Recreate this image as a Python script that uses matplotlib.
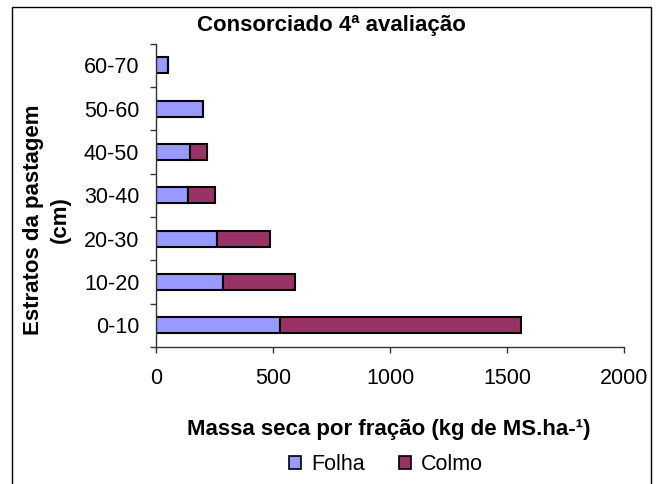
import matplotlib
matplotlib.use("Agg")
import matplotlib.pyplot as plt
from matplotlib.patches import Rectangle, Patch

plt.rcParams['font.family'] = ['Liberation Sans', 'DejaVu Sans']

# dados do gráfico
estratos = ["0-10", "10-20", "20-30", "30-40", "40-50", "50-60", "60-70"]
folha = [529, 286, 261, 137, 146, 200, 53]
colmo = [1030, 307, 228, 117, 74, 0, 0]

cor_folha = "#9999FF"
cor_colmo = "#993366"

fig = plt.figure(figsize=(6.62, 4.84), dpi=100)
W, H = 662, 484
ax = fig.add_axes([156 / W, 1 - 347 / H, (624 - 156) / W, (347 - 43.5) / H])

pos = list(range(len(estratos)))
ax.barh(pos, folha, height=0.37, color=cor_folha, edgecolor="black", linewidth=1.5)
ax.barh(pos, colmo, left=folha, height=0.37, color=cor_colmo, edgecolor="black", linewidth=1.5)

ax.set_xlim(0, 2000)
ax.set_ylim(-0.5, len(estratos) - 0.5)
ax.set_xticks([0, 500, 1000, 1500, 2000])
ax.tick_params(axis="x", direction="out", length=4.3, width=1, color="#333333",
               labelsize=15.5, pad=10.5)

# marcas do eixo y entre as categorias, rótulos no centro
ax.set_yticks([p - 0.5 for p in pos] + [len(estratos) - 0.5])
ax.set_yticklabels([])
ax.set_yticks(pos, minor=True)
ax.set_yticklabels(estratos, minor=True, fontsize=15.5)
ax.tick_params(axis="y", which="major", direction="out", length=4.3, width=1, color="#333333")
ax.tick_params(axis="y", which="minor", length=0, pad=12)

for s in ["top", "right"]:
    ax.spines[s].set_visible(False)
for s in ["left", "bottom"]:
    ax.spines[s].set_color("#333333")
    ax.spines[s].set_linewidth(1)

fig.text(331 / W, 1 - 25 / H, "Consorciado 4ª avaliação", ha="center", va="center",
         fontsize=16, fontweight="bold")
fig.text(389 / W, 1 - 429 / H, "Massa seca por fração (kg de MS.ha-¹)", ha="center",
         va="center", fontsize=16, fontweight="bold")
fig.text(47 / W, 1 - 220 / H, "Estratos da pastagem\n(cm)", ha="center", va="center",
         rotation=90, fontsize=16, fontweight="bold", linespacing=1.4)

handles = [Patch(facecolor=cor_folha, edgecolor="black", linewidth=1.2, label="Folha"),
           Patch(facecolor=cor_colmo, edgecolor="black", linewidth=1.2, label="Colmo")]
fig.legend(handles=handles, loc="center", bbox_to_anchor=(386 / W, 1 - 465 / H), ncol=2,
           frameon=False, fontsize=15.5, handlelength=0.55, handleheight=0.55,
           handletextpad=0.45, columnspacing=1.6, borderpad=0)

# moldura do gráfico
fig.add_artist(Rectangle((12 / W, -0.05), (651 - 12) / W, 1.05 - 7 / H,
                         transform=fig.transFigure, fill=False, edgecolor="black", linewidth=1))

fig.savefig("out.png", dpi=100)
